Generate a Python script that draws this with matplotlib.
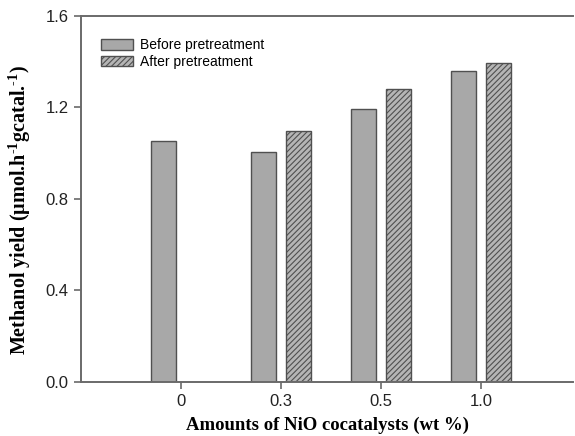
import numpy as np
import matplotlib.pyplot as plt

categories = ["0", "0.3", "0.5", "1.0"]
before = [1.055, 1.006, 1.195, 1.358]   # Before pretreatment
after = [0.0, 1.098, 1.280, 1.395]      # After pretreatment (none at 0)

plt.rcParams['hatch.color'] = '#3a3a3a'
plt.rcParams['hatch.linewidth'] = 0.8
plt.rcParams['mathtext.fontset'] = 'custom'
plt.rcParams['mathtext.rm'] = 'Liberation Serif:bold'
plt.rcParams['mathtext.bf'] = 'Liberation Serif:bold'
plt.rcParams['mathtext.it'] = 'Liberation Serif:bold'

W, H = 575, 436
fig = plt.figure(figsize=(W / 100, H / 100), dpi=100)
ax = fig.add_axes([0.141, 0.125, 0.856, 0.838])

x = np.arange(1, len(categories) + 1)
w = 0.25
ax.bar(x - 0.175, before, w, color='#a8a8a8', edgecolor='#505050', linewidth=1,
       label='Before pretreatment')
# no after-treatment bar for the 0 wt% sample
ax.bar(x[1:] + 0.175, after[1:], w, color='#b5b5b5', edgecolor='#505050', linewidth=1,
       hatch='//////', label='After pretreatment')

ax.set_xlim(0, 4.92)
ax.set_ylim(0, 1.6)
ax.set_xticks(x)
ax.set_xticklabels(categories)
ax.set_yticks([0.0, 0.4, 0.8, 1.2, 1.6])
ax.set_yticklabels(['0.0', '0.4', '0.8', '1.2', '1.6'])

for s in ['left', 'bottom', 'top']:
    ax.spines[s].set_color('#6a6a6a')
    ax.spines[s].set_linewidth(1.4)
ax.spines['right'].set_visible(False)
ax.tick_params(direction='out', length=5, width=1.2, color='#6a6a6a',
               labelsize=12, labelcolor='#222222', pad=4)
for lab in ax.get_xticklabels() + ax.get_yticklabels():
    lab.set_family('Liberation Sans')

# axis titles placed in figure pixels
fig.text(328 / W, 1 - 425 / H, 'Amounts of NiO cocatalysts (wt %)',
         family='Liberation Serif', fontweight='bold', fontsize=13.5,
         ha='center', va='center')
fig.text(20 / W, 1 - 210 / H,
         'Methanol yield (\u03bcmol.h$^{\\text{-1}}$gcatal.$^{\\text{-1}}$)',
         family='Liberation Serif', fontweight='bold', fontsize=14.5,
         ha='center', va='center', rotation=90)

leg = ax.legend(loc='upper left', bbox_to_anchor=(0.03, 0.955), frameon=False,
                prop={'family': 'Liberation Sans', 'size': 10},
                handlelength=2.3, handleheight=0.8, labelspacing=0.2,
                handletextpad=0.5, borderaxespad=0.0)

fig.savefig('out.png', dpi=100)
